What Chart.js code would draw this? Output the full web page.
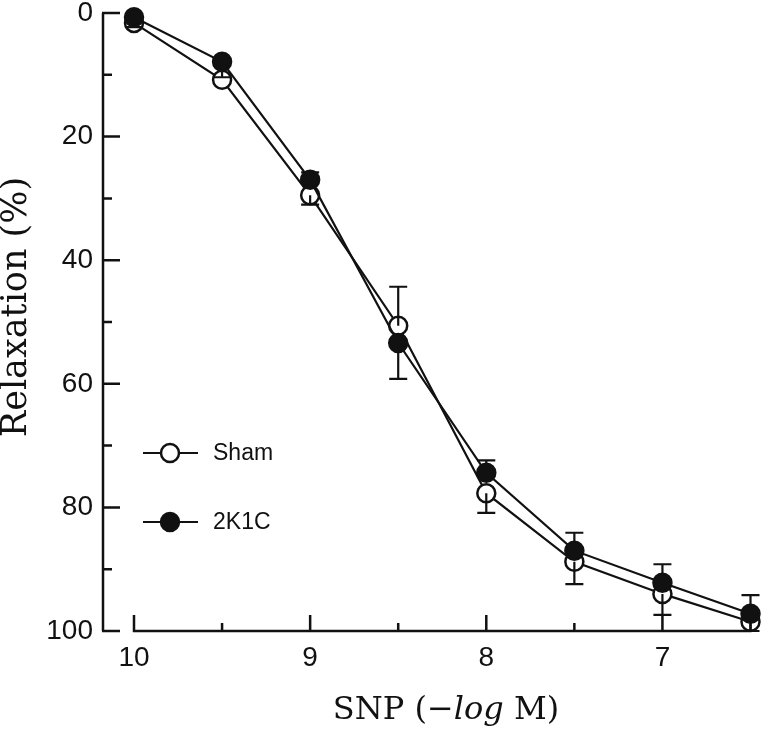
<!doctype html>
<html lang="en">
<head>
<meta charset="utf-8">
<title>SNP relaxation</title>
<script src="https://cdn.jsdelivr.net/npm/chart.js@4.4.0/dist/chart.umd.min.js"></script>
<style>
  html, body { margin: 0; padding: 0; background: #fff; }
</style>
</head>
<body>
<canvas id="chart" width="762" height="729"></canvas>
<script>
// datos
var dosis = [10, 9.5, 9, 8.5, 8, 7.5, 7, 6.5];
var sham = [1.6, 10.8, 29.5, 50.6, 77.7, 88.8, 94.0, 98.5];
var shamErr = [0, 0, 1.5, -6.3, 3.2, 3.6, 3.4, 1.5];   // + hacia 100, - hacia 0
var k1c = [0.7, 7.9, 27.0, 53.4, 74.4, 87.0, 92.2, 97.2];
var k1cErr = [1.6, 2.5, -1.2, 5.8, -2.0, -2.9, -3.0, -3.0];
var xTicks = [10, 9, 8, 7];
var xMinor = [9.5, 8.5, 7.5, 6.5];
var yTicks = [0, 20, 40, 60, 80, 100];
var yMinor = [10, 30, 50, 70, 90];

var negro = '#111';

function puntos(vals) {
    var out = [];
    for (var i = 0; i < dosis.length; i++) out.push({ x: dosis[i], y: vals[i] });
    return out;
}

// ejes con marcas hacia dentro, barras de error, leyenda y titulos
var extras = {
    id: 'extras',
    afterDatasetsDraw: function (chart) {
        var ctx = chart.ctx, xs = chart.scales.x, ys = chart.scales.y;
        ctx.save();
        ctx.strokeStyle = negro;
        ctx.lineWidth = 2.2;
        var series = [[sham, shamErr], [k1c, k1cErr]];
        series.forEach(function (s) {
            for (var i = 0; i < dosis.length; i++) {
                if (!s[1][i]) continue;
                var px = xs.getPixelForValue(dosis[i]);
                var p0 = ys.getPixelForValue(s[0][i]);
                var p1 = ys.getPixelForValue(s[0][i] + s[1][i]);
                ctx.beginPath();
                ctx.moveTo(px, p0); ctx.lineTo(px, p1);
                ctx.moveTo(px - 9, p1); ctx.lineTo(px + 9, p1);
                ctx.stroke();
            }
        });
        ctx.restore();
    },
    afterDraw: function (chart) {
        var ctx = chart.ctx, xs = chart.scales.x, ys = chart.scales.y, a = chart.chartArea;
        ctx.save();
        ctx.strokeStyle = negro;
        ctx.lineWidth = 2.5;
        // eje y
        var ax = a.left - 31;
        ctx.beginPath();
        ctx.moveTo(ax, ys.getPixelForValue(0));
        ctx.lineTo(ax, ys.getPixelForValue(100));
        yTicks.forEach(function (v) {
            var py = ys.getPixelForValue(v);
            ctx.moveTo(ax - 1, py); ctx.lineTo(ax + 17, py);
        });
        yMinor.forEach(function (v) {
            var py = ys.getPixelForValue(v);
            ctx.moveTo(ax, py); ctx.lineTo(ax + 9, py);
        });
        // eje x
        var by = a.bottom;
        ctx.moveTo(xs.getPixelForValue(10) - 1, by);
        ctx.lineTo(xs.getPixelForValue(6.5) + 1, by);
        xTicks.forEach(function (v) {
            var px = xs.getPixelForValue(v);
            ctx.moveTo(px, by + 1); ctx.lineTo(px, by - 16);
        });
        xMinor.forEach(function (v) {
            var px = xs.getPixelForValue(v);
            ctx.moveTo(px, by); ctx.lineTo(px, by - 8);
        });
        ctx.stroke();

        // leyenda
        var ley = [['Sham', '#fff', 453], ['2K1C', negro, 522]];
        ctx.font = '23px "Liberation Sans", Arial, sans-serif';
        ctx.textBaseline = 'middle';
        ctx.textAlign = 'left';
        ley.forEach(function (l) {
            ctx.lineWidth = 2.2;
            ctx.beginPath();
            ctx.moveTo(143, l[2]); ctx.lineTo(198, l[2]);
            ctx.stroke();
            ctx.beginPath();
            ctx.arc(170, l[2], 9, 0, Math.PI * 2);
            ctx.fillStyle = l[1];
            ctx.fill();
            ctx.lineWidth = 2.5;
            ctx.stroke();
            ctx.fillStyle = negro;
            ctx.fillText(l[0], 213, l[2] + 1);
        });

        // titulos
        ctx.fillStyle = negro;
        ctx.save();
        ctx.translate(17, 307);
        ctx.rotate(-Math.PI / 2);
        ctx.font = '35px "DejaVu Serif", serif';
        ctx.textAlign = 'center';
        ctx.fillText('Relaxation (%)', 0, 0);
        ctx.restore();

        var partes = [['SNP (\u2212', ''], ['log', 'italic '], [' M)', '']];
        var total = 0;
        partes.forEach(function (p) {
            ctx.font = p[1] + '32px "DejaVu Serif", serif';
            p.w = ctx.measureText(p[0]).width;
            total += p.w;
        });
        var x0 = 446 - total / 2;
        ctx.textAlign = 'left';
        partes.forEach(function (p) {
            ctx.font = p[1] + '32px "DejaVu Serif", serif';
            ctx.fillText(p[0], x0, 711);
            x0 += p.w;
        });
        ctx.restore();
    }
};

new Chart(document.getElementById('chart').getContext('2d'), {
    type: 'line',
    data: {
        datasets: [{
            label: 'Sham',
            data: puntos(sham),
            order: 1,
            borderColor: negro,
            borderWidth: 2.2,
            pointRadius: 9,
            pointBorderWidth: 2.5,
            pointBackgroundColor: '#fff',
            pointBorderColor: negro,
            clip: false
        }, {
            label: '2K1C',
            data: puntos(k1c),
            order: 0,
            borderColor: negro,
            borderWidth: 2.2,
            pointRadius: 9,
            pointBorderWidth: 2.5,
            pointBackgroundColor: negro,
            pointBorderColor: negro,
            clip: false
        }]
    },
    options: {
        responsive: false,
        animation: false,
        layout: { padding: { left: 0, right: 10, top: 13, bottom: 0 } },
        plugins: { legend: { display: false }, tooltip: { enabled: false } },
        scales: {
            x: {
                type: 'linear',
                min: 6.5, max: 10,
                reverse: true,
                grid: { display: false },
                border: { display: false },
                afterBuildTicks: function (s) { s.ticks = xTicks.map(function (v) { return { value: v }; }); },
                afterFit: function (s) { s.height = 98; s.paddingLeft = 0; s.paddingRight = 0; },
                ticks: {
                    color: negro,
                    padding: 2,
                    font: { family: '"Liberation Sans", Arial, sans-serif', size: 28 }
                }
            },
            y: {
                min: 0, max: 100,
                reverse: true,
                grid: { display: false },
                border: { display: false },
                afterBuildTicks: function (s) { s.ticks = yTicks.map(function (v) { return { value: v }; }); },
                afterFit: function (s) { s.width = 134; s.paddingTop = 0; s.paddingBottom = 0; },
                ticks: {
                    color: negro,
                    padding: 33,
                    font: { family: '"Liberation Sans", Arial, sans-serif', size: 28 }
                }
            }
        }
    },
    plugins: [extras]
});
</script>
</body>
</html>
